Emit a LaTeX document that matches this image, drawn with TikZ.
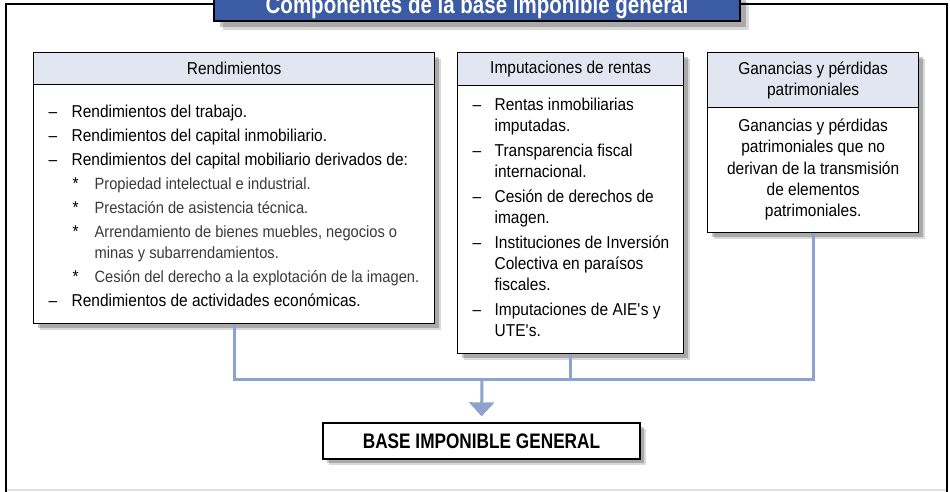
\documentclass[tikz,border=0pt]{standalone}
\usepackage{fontspec}
\setmainfont{Liberation Sans}[FakeStretch=0.9]
\newfontfamily\condfont{Liberation Sans}[FakeStretch=0.82]
\usetikzlibrary{shadows,arrows.meta}
\definecolor{hdrfill}{HTML}{E2E6F1}
\definecolor{titlefill}{HTML}{3B5BA5}
\definecolor{conncol}{HTML}{8DA3CF}
\definecolor{subtext}{HTML}{3A3A3A}
\newcommand\lineitem[4]{\par\hangindent=#2\hangafter=1\noindent\hspace*{#1}\makebox[\dimexpr#2-#1\relax][l]{#3}#4}
\newcommand\ditem[1]{\lineitem{15pt}{38pt}{–}{#1}}
\newcommand\sitem[1]{\lineitem{39pt}{61pt}{*}{{\color{subtext}\fontsize{16.3}{21}\selectfont #1}}}
\newcommand\iitem[1]{\lineitem{15pt}{37pt}{–}{#1}}
\begin{document}
\begin{tikzpicture}[x=1pt,y=-1pt,
  boxshadow/.style={general shadow={fill=black, opacity=0.22, shadow xshift=4pt, shadow yshift=-4pt},
                    general shadow={fill=black, opacity=0.15, shadow xshift=6pt, shadow yshift=-6pt}},
  bigshadow/.style={general shadow={fill=black, opacity=0.22, shadow xshift=6pt, shadow yshift=-6pt},
                    general shadow={fill=black, opacity=0.15, shadow xshift=9pt, shadow yshift=-9pt}},
  hdr/.style={draw=black, line width=1.3pt, fill=hdrfill, inner sep=0pt, anchor=north west,
              font=\fontsize{17.2}{21}\selectfont, align=center, boxshadow},
  bodybox/.style={draw=black, line width=1.3pt, fill=white, inner sep=0pt, anchor=north west, boxshadow},
  conn/.style={draw=conncol, line width=3pt},
  titlebox/.style={draw=black, line width=2pt, fill=titlefill, text=white, bigshadow,
                   font=\condfont\bfseries\fontsize{25}{25}\selectfont},
  basebox/.style={draw=black, line width=1.3pt, fill=white, inner sep=0pt, boxshadow,
                  font=\condfont\bfseries\fontsize{21}{21}\selectfont}
]
\useasboundingbox (0,0) rectangle (950,491);
% outer frame
\draw[line width=2.5pt] (6,492) |- (947,4) -- (947,492);
\draw[black!12, line width=1.5pt] (7,490) -- (946,490);

% title
\node[titlebox, anchor=base, minimum width=526pt, text height=18pt, text depth=6pt, inner xsep=0pt, inner ysep=2pt]
  (title) at (477,13) {Componentes de la base imponible general};

% Rendimientos
\node[hdr, minimum width=401pt, minimum height=32pt] (rendH) at (33,52) {Rendimientos};
\node[bodybox] (rendB) at (33,84) {\parbox[c][239pt][t]{401pt}{\raggedright\fontsize{17.2}{21}\selectfont\parskip=3pt
\ditem{\rule{0pt}{33pt}Rendimientos del trabajo.}
\ditem{Rendimientos del capital inmobiliario.}
\ditem{Rendimientos del capital mobiliario derivados de:}
\sitem{Propiedad intelectual e industrial.}
\sitem{Prestación de asistencia técnica.}
\sitem{Arrendamiento de bienes muebles, negocios o\newline minas y subarrendamientos.}
\sitem{Cesión del derecho a la explotación de la imagen.}
\ditem{Rendimientos de actividades económicas.}\par}};

% Imputaciones
\node[hdr, minimum width=226pt, minimum height=33pt] (impH) at (457,52) {Imputaciones de rentas};
\node[bodybox] (impB) at (457,85) {\parbox[c][268pt][t]{226pt}{\raggedright\fontsize{17.2}{21}\selectfont\parskip=4pt
\iitem{\rule{0pt}{25pt}Rentas inmobiliarias\newline imputadas.}
\iitem{Transparencia fiscal\newline internacional.}
\iitem{Cesión de derechos de\newline imagen.}
\iitem{Instituciones de Inversión\newline Colectiva en paraísos\newline fiscales.}
\iitem{Imputaciones de AIE\textquotesingle s y\newline UTE\textquotesingle s.}\par}};

% Ganancias
\node[hdr, minimum width=211pt, minimum height=55pt] (ganH) at (707,52) {Ganancias y pérdidas\\patrimoniales};
\node[bodybox] (ganB) at (707,107) {\parbox[c][125pt][t]{211pt}{\centering\fontsize{17.2}{21.3}\selectfont
\rule{0pt}{24pt}Ganancias y pérdidas\\
patrimoniales que no\\
derivan de la transmisión\\
de elementos\\
patrimoniales.\par}};

% base
\node[basebox, minimum width=317pt, minimum height=36pt] (base) at (481.5,441) {BASE IMPONIBLE GENERAL};

% connectors
\coordinate (jn) at (482,379);
\draw[conn] (rendB.south) |- (jn) -| (ganB.south);
\draw[conn] (impB.south) -- (impB.south |- jn);
\draw[conn, -{Triangle[width=25pt,length=14pt]}, shorten >=6pt] (jn) -- (base.north);
\end{tikzpicture}
\end{document}
